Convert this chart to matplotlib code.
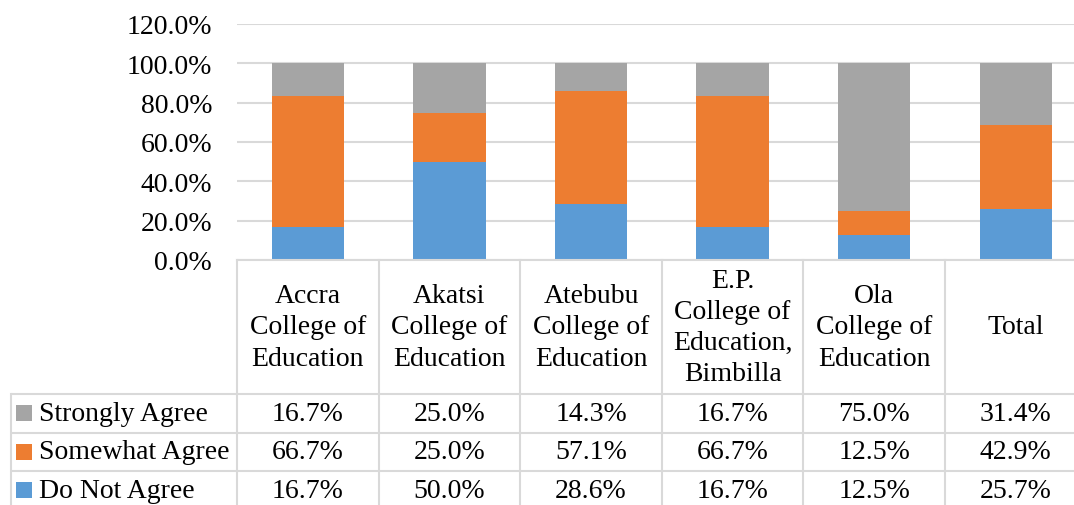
import numpy as np
import matplotlib.pyplot as plt

# data
colleges = ["Accra\nCollege of\nEducation", "Akatsi\nCollege of\nEducation",
            "Atebubu\nCollege of\nEducation", "E.P.\nCollege of\nEducation,\nBimbilla",
            "Ola\nCollege of\nEducation", "Total"]
do_not_agree = [16.7, 50.0, 28.6, 16.7, 12.5, 25.7]
somewhat_agree = [66.7, 25.0, 57.1, 66.7, 12.5, 42.9]
strongly_agree = [16.7, 25.0, 14.3, 16.7, 75.0, 31.4]
y_ticks = [0, 20, 40, 60, 80, 100, 120]

series = [("Strongly Agree", strongly_agree, "#a5a5a5"),
          ("Somewhat Agree", somewhat_agree, "#ed7d31"),
          ("Do Not Agree", do_not_agree, "#5b9bd5")]

plt.rcParams['font.family'] = ['Liberation Serif', 'DejaVu Serif']
W, H = 1074, 506
grid_col = "#d9d9d9"
fs = 20

fig = plt.figure(figsize=(W / 100, H / 100), dpi=100)

# pixel layout
cat_w = 141.6
x0 = 237
n = len(colleges)
y_zero, y_top = 261, 25

ax = fig.add_axes([x0 / W, (H - y_zero) / H, n * cat_w / W, (y_zero - y_top) / H])
x = np.arange(n)
bottom = np.zeros(n)
for name, vals, col in series[::-1]:
    ax.bar(x, vals, width=0.51, bottom=bottom, color=col, zorder=3)
    bottom += np.array(vals)
ax.set_xlim(-0.5, n - 0.5)
ax.set_ylim(0, 120)
ax.set_yticks(y_ticks)
ax.set_yticklabels([f"{v:.1f}%" for v in y_ticks], fontsize=fs)
ax.tick_params(axis='y', length=0, pad=18)
ax.set_xticks([])
ax.grid(axis='y', color=grid_col, linewidth=1.5, zorder=0)
for s in ax.spines.values():
    s.set_visible(False)

# data table below the plot
tab_top = y_zero
tab_bot = H + 10
left_px = 11
tx = fig.add_axes([left_px / W, (H - tab_bot) / H,
                   (x0 + n * cat_w - left_px) / W, (tab_bot - tab_top) / H])
legend_left = -0.5 - (x0 - left_px) / cat_w
tx.set_xlim(legend_left, n - 0.5)
tx.set_ylim(tab_bot, tab_top)
tx.axis('off')

header_bot = 395
row_h = 38.5
row_tops = [header_bot + i * row_h for i in range(4)]
lw = 1.5

# horizontal lines
tx.plot([-0.5, n - 0.5], [tab_top, tab_top], color=grid_col, lw=lw, clip_on=False)
for yt in row_tops:
    tx.plot([legend_left, n - 0.5], [yt, yt], color=grid_col, lw=lw)
# vertical lines
for b in np.arange(n + 1) - 0.5:
    tx.plot([b, b], [tab_top, tab_bot], color=grid_col, lw=lw, clip_on=False)
tx.plot([legend_left, legend_left], [header_bot, tab_bot], color=grid_col, lw=lw, clip_on=False)

# header text
for i, lab in enumerate(colleges):
    tx.text(i, (tab_top + header_bot) / 2, lab, ha='center', va='center',
            fontsize=fs, linespacing=1.33)

# rows
for r, (name, vals, col) in enumerate(series):
    yc = row_tops[r] + row_h / 2
    tx.scatter([legend_left + 0.09], [yc], marker='s', s=120, color=col,
               linewidths=0, clip_on=False)
    tx.text(legend_left + 0.2, yc, name, ha='left', va='center', fontsize=fs)
    for i, v in enumerate(vals):
        tx.text(i, yc, f"{v:.1f}%", ha='center', va='center', fontsize=fs)

fig.savefig("out.png", dpi=100)
